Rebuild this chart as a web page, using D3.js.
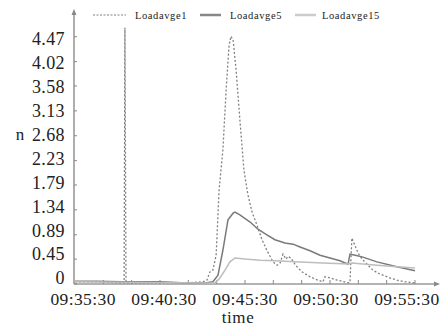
<!DOCTYPE html>
<html>
<head>
<meta charset="utf-8">
<script src="https://cdn.jsdelivr.net/npm/d3@7"></script>
<style>
  body { margin: 0; background: #fff; }
  text { font-family: "Liberation Serif", "Times New Roman", serif; fill: #222; }
</style>
</head>
<body>
<svg id="chart" width="443" height="327"></svg>
<script>
// series data: [time, load]
const load1 = [
  ['09:35:00', 0.04], ['09:36:22', 0.04], ['09:37:54', 0.02], ['09:38:02', 0.02],
  ['09:38:05', 4.63], ['09:38:09', 0.02], ['09:40:15', 0.02], ['09:41:55', 0.02],
  ['09:42:54', 0.04], ['09:43:09', 0.07], ['09:43:20', 0.22], ['09:43:31', 0.25],
  ['09:43:43', 0.52], ['09:43:54', 1.70], ['09:44:08', 2.42], ['09:44:20', 3.50],
  ['09:44:31', 4.32], ['09:44:38', 4.48], ['09:44:46', 4.41], ['09:44:57', 3.87],
  ['09:45:11', 2.97], ['09:45:26', 2.06], ['09:45:41', 1.61], ['09:45:56', 1.30],
  ['09:46:14', 1.07], ['09:46:33', 0.80], ['09:46:51', 0.61], ['09:47:14', 0.40],
  ['09:47:29', 0.34], ['09:47:40', 0.38], ['09:47:51', 0.54], ['09:48:02', 0.45],
  ['09:48:09', 0.50], ['09:48:20', 0.47], ['09:48:39', 0.33], ['09:49:01', 0.22],
  ['09:49:31', 0.13], ['09:50:00', 0.07], ['09:50:19', 0.04], ['09:50:26', 0.13],
  ['09:50:45', 0.11], ['09:51:11', 0.07], ['09:51:52', 0.02], ['09:51:59', 0.03],
  ['09:52:06', 0.83], ['09:52:18', 0.69], ['09:52:29', 0.56], ['09:52:44', 0.45],
  ['09:53:02', 0.36], ['09:53:24', 0.25], ['09:53:50', 0.18], ['09:54:27', 0.11],
  ['09:54:53', 0.07], ['09:55:23', 0.04], ['09:56:00', 0.02]
];
const load5 = [
  ['09:35:00', 0.05], ['09:36:22', 0.05], ['09:37:54', 0.04], ['09:40:15', 0.04],
  ['09:41:55', 0.02], ['09:43:02', 0.02], ['09:43:31', 0.04], ['09:43:50', 0.16],
  ['09:44:08', 0.61], ['09:44:27', 1.16], ['09:44:46', 1.28], ['09:44:53', 1.30],
  ['09:45:11', 1.25], ['09:45:49', 1.12], ['09:46:18', 0.99], ['09:46:51', 0.89],
  ['09:47:21', 0.80], ['09:47:58', 0.74], ['09:48:28', 0.72], ['09:48:54', 0.67],
  ['09:49:31', 0.60], ['09:50:08', 0.52], ['09:50:45', 0.47], ['09:51:22', 0.42],
  ['09:51:52', 0.36], ['09:51:59', 0.54], ['09:52:18', 0.52], ['09:52:44', 0.49],
  ['09:53:39', 0.40], ['09:54:53', 0.31], ['09:56:00', 0.24]
];
const load15 = [
  ['09:35:00', 0.04], ['09:43:02', 0.02], ['09:43:39', 0.02], ['09:43:57', 0.11],
  ['09:44:16', 0.25], ['09:44:34', 0.40], ['09:44:53', 0.47], ['09:45:30', 0.45],
  ['09:46:26', 0.43], ['09:47:21', 0.42], ['09:48:35', 0.40], ['09:50:19', 0.38],
  ['09:51:52', 0.36], ['09:52:06', 0.38], ['09:53:39', 0.34], ['09:54:53', 0.31],
  ['09:56:00', 0.29]
];
const seriesNames = ['Loadavge1', 'Loadavge5', 'Loadavge15'];
const yTickValues = [0, 0.45, 0.89, 1.34, 1.79, 2.23, 2.68, 3.13, 3.58, 4.02, 4.47];
const xTickLabels = ['09:35:30', '09:40:30', '09:45:30', '09:50:30', '09:55:30'];
const timeStart = '09:35:00', timeEnd = '09:56:00';

const parse = d3.timeParse('%H:%M:%S');
const svg = d3.select('#chart');

const x = d3.scaleTime()
  .domain([parse(timeStart), parse(timeEnd)])
  .range([75, 415]);
const y = d3.scaleLinear()
  .domain([0, 4.47 * 1.1])
  .range([284, 12]);
// tick labels in the original sit on a slightly tighter spacing than the ticks
const yLabel = d3.scaleLinear()
  .domain([0, 4.47])
  .range([278, 39]);

const axisColor = '#9a9a9a';

// axes
svg.append('line')
  .attr('x1', 74).attr('x2', 74).attr('y1', 284).attr('y2', 14)
  .attr('stroke', axisColor).attr('stroke-width', 1.6);
svg.append('line')
  .attr('x1', 74).attr('x2', 436).attr('y1', 284).attr('y2', 284)
  .attr('stroke', axisColor).attr('stroke-width', 1.6);
svg.append('path')
  .attr('d', 'M74,9 L71.5,15 L76.5,15 Z')
  .attr('fill', '#888');
svg.append('path')
  .attr('d', 'M440,284 L434,281.5 L434,286.5 Z')
  .attr('fill', '#888');

// y ticks
const yAxis = svg.append('g');
yAxis.selectAll('line')
  .data(yTickValues)
  .enter().append('line')
  .attr('x1', 74).attr('x2', 77)
  .attr('y1', d => y(d)).attr('y2', d => y(d))
  .attr('stroke', '#888').attr('stroke-width', 1);
yAxis.selectAll('text')
  .data(yTickValues)
  .enter().append('text')
  .attr('x', 65)
  .attr('y', d => yLabel(d))
  .attr('dy', '0.35em')
  .attr('text-anchor', 'end')
  .style('font-size', '18px')
  .style('letter-spacing', '0.4px')
  .text(d => d === 0 ? '0' : d.toFixed(2));

// x ticks: evenly split domain
const xTicks = d3.range(13).map(i => new Date(+x.domain()[0] + i * (x.domain()[1] - x.domain()[0]) / 12));
svg.append('g').selectAll('line')
  .data(xTicks.slice(1))
  .enter().append('line')
  .attr('x1', d => x(d)).attr('x2', d => x(d))
  .attr('y1', 284).attr('y2', 280)
  .attr('stroke', '#888').attr('stroke-width', 1);

svg.append('g').selectAll('text')
  .data(xTickLabels)
  .enter().append('text')
  .attr('x', d => x(parse(d)))
  .attr('y', 305)
  .attr('text-anchor', 'middle')
  .style('font-size', '17.5px')
  .style('letter-spacing', '0.4px')
  .text(d => d);

svg.append('text')
  .attr('x', 238).attr('y', 323)
  .attr('text-anchor', 'middle')
  .style('font-size', '17px')
  .style('letter-spacing', '0.6px')
  .text('time');
svg.append('text')
  .attr('x', 20).attr('y', 140)
  .attr('text-anchor', 'middle')
  .style('font-size', '17px')
  .text('n');

// lines
const line = d3.line()
  .x(d => x(parse(d[0])))
  .y(d => y(d[1]));
const styles = [
  {data: load1, color: '#808080', width: 1.3, dash: '2,2'},
  {data: load5, color: '#7a7a7a', width: 1.5, dash: null},
  {data: load15, color: '#bdbdbd', width: 1.5, dash: null}
];
styles.forEach(s => {
  svg.append('path')
    .attr('d', line(s.data))
    .attr('fill', 'none')
    .attr('stroke', s.color)
    .attr('stroke-width', s.width)
    .attr('stroke-dasharray', s.dash);
});

// legend
const legendX = [[93, 126, 135], [200, 221, 230], [295, 316, 322]];
const legendStyles = [
  {color: '#aaa', width: 1.5, dash: '2,1.5'},
  {color: '#888', width: 2.5, dash: null},
  {color: '#ccc', width: 2.5, dash: null}
];
const legend = svg.append('g');
seriesNames.forEach((name, i) => {
  legend.append('line')
    .attr('x1', legendX[i][0]).attr('x2', legendX[i][1])
    .attr('y1', 15).attr('y2', 15)
    .attr('stroke', legendStyles[i].color)
    .attr('stroke-width', legendStyles[i].width)
    .attr('stroke-dasharray', legendStyles[i].dash);
  legend.append('text')
    .attr('x', legendX[i][2]).attr('y', 18.5)
    .style('font-size', '10.5px')
    .style('letter-spacing', '0.6px')
    .text(name);
});
</script>
</body>
</html>
